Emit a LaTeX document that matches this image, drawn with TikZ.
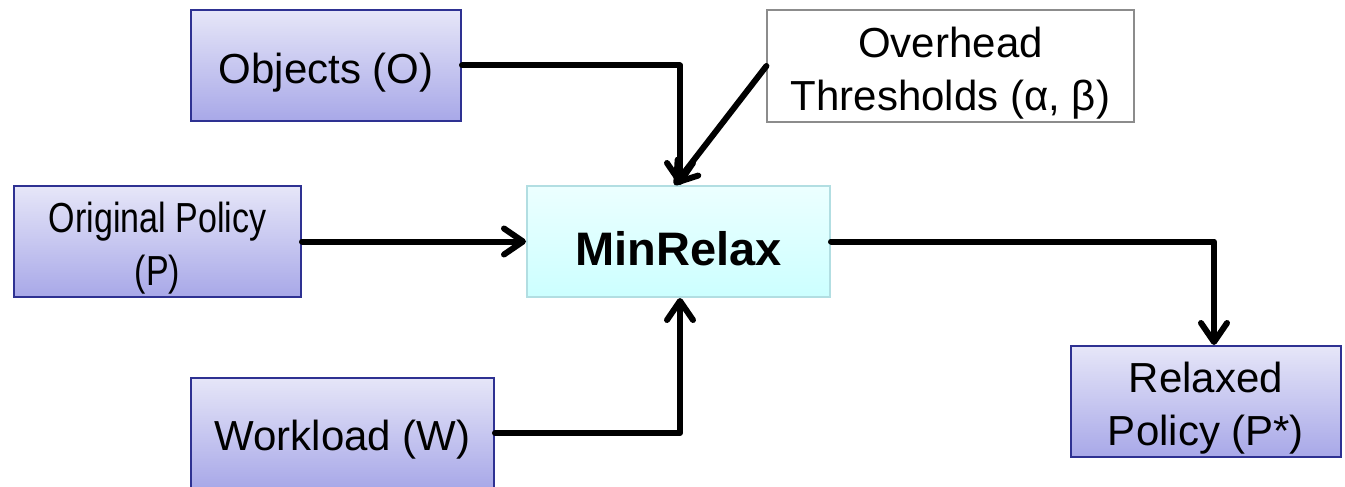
\documentclass[tikz,border=0pt]{standalone}
\usepackage{fontspec}
\setmainfont{Liberation Sans}
\usetikzlibrary{arrows.meta}

\definecolor{boxedge}{HTML}{2E3192}
\definecolor{boxtop}{HTML}{E6E6F8}
\definecolor{boxbot}{HTML}{A8A8E8}
\definecolor{coreedge}{HTML}{B2DEE2}
\definecolor{coretop}{HTML}{ECFFFF}
\definecolor{corebot}{HTML}{CCFFFF}
\definecolor{noteedge}{HTML}{8C8C8C}

% lower a line of text a little while keeping its measured size
\newcommand\lowline[1]{\raisebox{-7pt}[\height][\depth]{#1}}

\tikzset{
  x=1pt, y=-1pt,
  txt/.style={font=\fontsize{42}{53}\selectfont, align=center, inner sep=0pt},
  inbox/.style={txt, draw=boxedge, line width=2pt, top color=boxtop, bottom color=boxbot},
  corebox/.style={txt, draw=coreedge, line width=2pt, top color=coretop, bottom color=corebot,
    font=\fontsize{47}{52}\selectfont\bfseries},
  notebox/.style={txt, draw=noteedge, line width=1.2pt, fill=white},
  conn/.style={line width=6pt, line join=round, line cap=round,
    -{Straight Barb[length=19pt, width=26pt, line cap=round, line join=round]}},
}

\begin{document}
\begin{tikzpicture}
\useasboundingbox (0,0) rectangle (1345,487);

% input and output boxes
\node[inbox, minimum width=270pt, minimum height=111pt] (obj) at (326,65.5)
  {\lowline{Objects (O)}};
\node[notebox, minimum width=367pt, minimum height=112pt] (thr) at (950.5,66)
  {\lowline{Overhead}\\\lowline{Thresholds (α, β)}};
\node[inbox, minimum width=287pt, minimum height=111pt] (orig) at (157.5,241.5)
  {\lowline{\scalebox{0.81}[1]{Original Policy}}\\\lowline{\scalebox{0.81}[1]{(P)}}};
\node[corebox, minimum width=303pt, minimum height=111pt] (minr) at (678.5,241.5)
  {\lowline{MinRelax}};
\node[inbox, minimum width=303pt, minimum height=111pt] (work) at (342.5,433)
  {\lowline{Workload (W)}};
\node[inbox, minimum width=270pt, minimum height=111pt] (rel) at (1206,401.5)
  {\lowline{Relaxed}\\\lowline{Policy (P*)}};

% connectors into and out of MinRelax
\draw[conn] (obj.east) -| ([xshift=1.5pt]minr.north);
\draw[conn] (thr.west) -- ([xshift=-4pt]minr.north);
\draw[conn] (orig.east) -- (minr.west);
\draw[conn] (work.east) -| ([xshift=1.5pt]minr.south);
\draw[conn] (minr.east) -| ([xshift=8pt]rel.north);
\end{tikzpicture}
\end{document}
